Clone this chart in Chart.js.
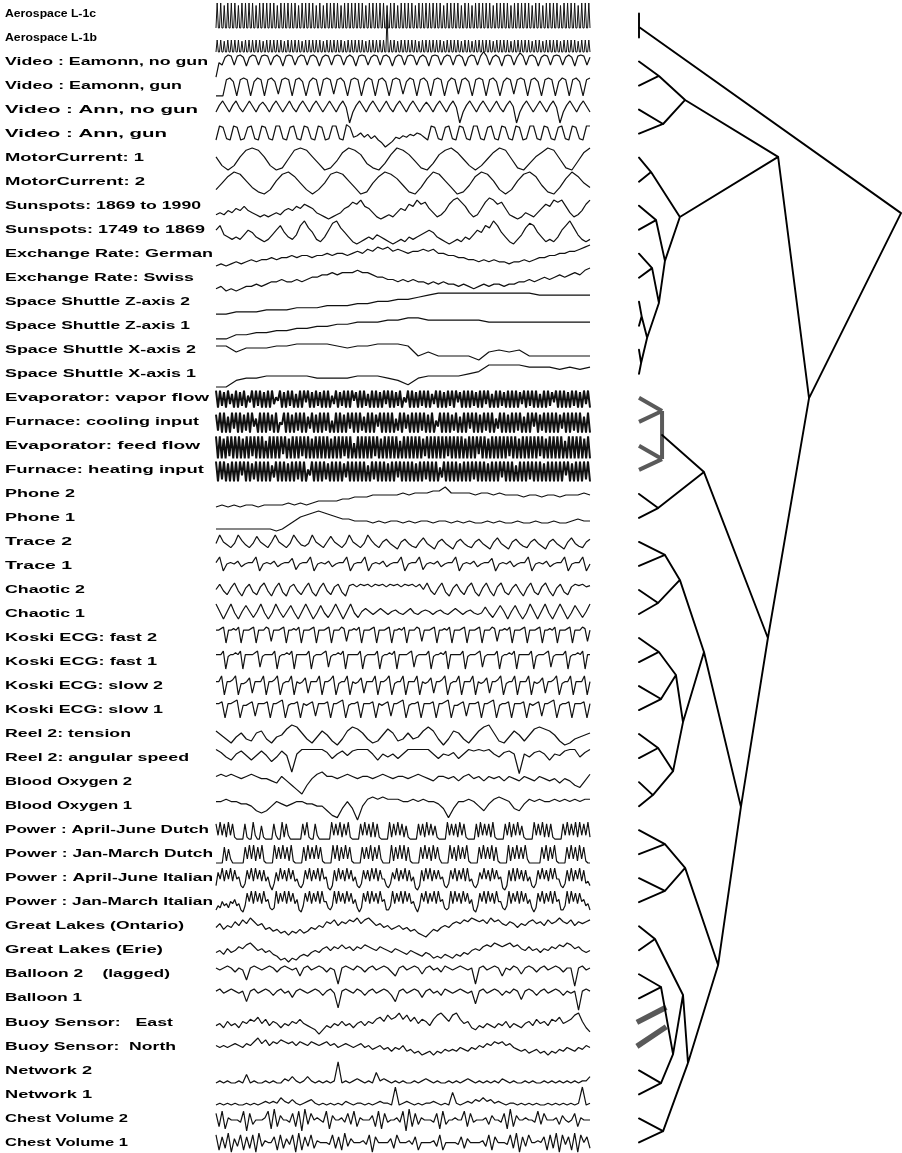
<!DOCTYPE html>
<html><head><meta charset="utf-8">
<script src="https://cdn.jsdelivr.net/npm/chart.js@4.4.1/dist/chart.umd.min.js"></script>
<style>html,body{margin:0;padding:0;background:#fff;}#wrap{position:relative;width:902px;height:1153px;}canvas{display:block;}</style>
</head><body><div id="wrap"><canvas id="c" width="902" height="1153" style="width:902px;height:1153px"></canvas></div>
<script>
// ---------- DATA ----------
const seriesNames = ["Aerospace L-1c","Aerospace L-1b","Video : Eamonn, no gun","Video : Eamonn, gun","Video : Ann, no gun","Video : Ann, gun","MotorCurrent: 1","MotorCurrent: 2","Sunspots: 1869 to 1990","Sunspots: 1749 to 1869","Exchange Rate: German","Exchange Rate: Swiss","Space Shuttle Z-axis 2","Space Shuttle Z-axis 1","Space Shuttle X-axis 2","Space Shuttle X-axis 1","Evaporator: vapor flow","Furnace: cooling input","Evaporator: feed flow","Furnace: heating input","Phone 2","Phone 1","Trace 2","Trace 1","Chaotic 2","Chaotic 1","Koski ECG: fast 2","Koski ECG: fast 1","Koski ECG: slow 2","Koski ECG: slow 1","Reel 2: tension","Reel 2: angular speed","Blood Oxygen 2","Blood Oxygen 1","Power : April-June Dutch","Power : Jan-March Dutch","Power : April-June Italian","Power : Jan-March Italian","Great Lakes (Ontario)","Great Lakes (Erie)","Balloon 2    (lagged)","Balloon 1","Buoy Sensor:   East","Buoy Sensor:  North","Network 2","Network 1","Chest Volume 2","Chest Volume 1"];

const aerospaceL1c = [0,10,0,0,10,0,0,9,0,0,10,0,0,10,0,0,10,0,0,9,0,0,10,0,0,10,0,0,10,0, 0,10,0,0,9,0,0,10,0,0,10,0,0,10,0,0,10,0,0,10,0,0,9,0,0,10,0,0,10,0, 0,10,0,0,10,0,0,10,0,0,9,0,0,10,0,0,10,0,0,10,0,0,10,0,0,9,0,0,10,0, 0,9,0,0,10,0,0,10,0,0,10,0,0,10,0,0,9,0,0,10,0,0,10,0,0,10,0,0,10,0, 0,10,0,0,10,0,0,9,0,0,10,0,0,10,0,0,10,0,0,10,0,0,10,0,0,9,0,0,10,0, 0,10,0,0,9,0,0,10,0,0,10,0,0,10,0,0,10,0,0,9,0,0,10,0,0,10,0,0,10,0, 0,10,0,0,10,0,0,10,0,0,10,0,0,9,0,0,10,0,0,10,0,0,10,0,0,10,0,0,9,0, 0,10,0,0,10,0,0,9,0,0,10,0,0,10,0,0,10,0,0,10,0,0,10,0,0,9,0,0,10,0, 0,10,0,0,10,0,0,10,0,0,9,0,0,10,0,0,10,0,0,10,0,0,10,0,0,10,0,0,9,0, 0,10,0,0,10,0,0,9,0,0,10,0,0,10,0,0,10,0,0,10,0,0,9,0,0,10,0,0,10,0, 0,10,0,0,10,0,0,9,0,0,10,0,0,10,0,0,10,0];
const aerospaceL1b = [0,10,0,0,10,0,0,9,0,0,10,0,0,10,0,0,10,0,0,10,0,0,9,0,0,10,0,0,10,0, 0,10,0,0,10,0,0,10,0,0,9,0,0,10,0,0,10,0,0,10,0,0,10,0,0,10,0,0,9,0, 0,10,0,0,10,0,0,10,0,0,10,0,0,9,0,0,10,0,0,10,0,0,10,0,0,10,0,0,10,0, 0,9,0,0,10,0,0,10,0,0,10,0,0,10,0,0,10,0,0,9,0,0,10,0,0,10,0,0,10,0, 0,10,0,0,10,0,0,9,0,0,10,0,0,10,0,0,10,0,0,10,0,0,10,0,0,31,0,0,10,0, 0,10,0,0,9,0,0,10,0,0,10,0,0,10,0,0,10,0,0,10,0,0,9,0,0,10,0,0,10,0, 0,10,0,0,10,0,0,10,0,0,10,0,0,9,0,0,10,0,0,10,0,0,10,0,0,10,0,0,9,0, 0,10,0,0,10,0,0,9,0,0,10,0,0,10,0,0,10,0,0,10,0,0,10,0,0,9,0,0,10,0, 0,10,0,0,10,0,0,10,0,0,9,0,0,10,0,0,10,0,0,10,0,0,10,0,0,10,0,0,9,0, 0,10,0,0,10,0,0,9,0,0,10,0,0,10,0,0,10,0,0,10,0,0,9,0,0,10,0,0,10,0, 0,10,0,0,10,0,0,9,0,0,10,0,0,10,0,0,10,0];
const videoEamonnNoGun = [-10,3,1,8,10,9,1,9,10,8,0,8,10,9,1,9,10,9,1,8,10,8,0,9,10,9,1,8,10,9,1,9,10,8,0,8,10,9,1,9,10,9,1,8,10,8,0,9,10,9,1,8,10,9,1,9,10,8,0,8,10,9,1,9,10,9,1,8,10,8,0,9,10,9,1,8,10,9,1,9,10,8,0,8,10,9,1,9,13,9,1,8,10,8,0,9,10,9,1,8,12,9,1,9,10,8,0,8,10,9,1,9,10,9,1,8,10,8,0,9,10,9,1,8];
const videoEamonnGun = [0,0,0,9,10,8,0,9,10,9,0,8,10,9,0,9,10,8,1,9,10,9,0,9,10,8,0,8,10,9,0,9,10,9,1,9,10,8,0,9,10,9,0,8,10,9,0,9,10,8,0,9,10,9,1,8,10,9,0,9,10,8,0,9,10,9,0,8,10,9,1,9,10,8,0,9,10,9,0,9,10,8,0,8,10,9,1,9,10,9,0,9,10,8,0,9,10,9,0,8,10,9,0,9,10,8,0,9,10];
const videoAnnNoGun = [0,6,10,5,0,6,10,4,0,5,10,5,0,6,9,5,0,6,10,5,0,5,10,4,0,6,10,5,0,6,10,5,0,5,10,5,0,6,10,4,-10,0,6,10,5,0,6,10,5,0,5,10,4,0,6,10,5,0,6,10,5,0,5,9,5,0,6,10,5,0,6,10,4,-10,0,6,10,5,0,6,10,5,0,5,10,4,0,6,10,5,-10,0,6,10,5,0,5,10,5,0,6,10,4,-10,0,6,10,5,0,6,10,5,0];
const videoAnnGun = [0,10,9,1,0,10,9,0,1,9,10,1,0,10,9,1,0,10,10,1,0,9,10,1,0,10,9,1,0,10,9,0,1,10,10,1,0,11,9,2,3,5,2,4,1,3,0,-2,-5,-3,-1,2,1,3,2,4,3,5,4,2,0,10,9,1,0,9,10,1,0,10,9,1,0,10,10,1,0,9,10,1,0,10,9,1,0,10,9,0,1,10,10,1,0,10,9,1,0,9,10,1,0,10,9,1,0,10,10];
const motorCurrent1 = [6,2,0,2,6,9,10,9,6,2,0,1,5,9,10,9,6,3,0,1,4,8,10,9,7,3,1,0,3,7,10,9,7,4,1,0,3,7,9,10,8,5,2,0,2,5,8,10,9,5,1,0,3,6,8,10,9,5,1,0,4,8,10];
const motorCurrent2 = [2,5,8,10,9,6,3,1,0,2,6,9,10,8,5,2,0,2,5,9,10,9,6,3,0,1,5,8,10,9,7,4,1,0,3,7,10,9,6,3,0,1,4,8,10,9,6,2,0,2,6,9,10,8,4,1,0,3,7,10,8,5,3];
const sunspots1869 = [2,3,2,4,3,5,4,6,4,3,2,1,2,1,2,3,2,4,5,4,6,5,7,6,5,3,2,1,0,1,2,3,5,6,8,7,9,6,5,3,1,0,1,2,1,3,5,4,7,6,9,7,8,5,3,1,2,4,7,9,10,8,6,3,1,2,5,8,10,9,7,8,5,2,1,0,1,3,2,1,3,5,7,6,9,8,9,6,3,1,2,4,7,9];
const sunspots1749 = [6,8,4,3,2,3,2,4,6,5,3,2,1,2,4,6,8,5,3,2,4,8,10,7,5,2,1,3,6,9,10,7,5,3,1,0,1,2,3,2,4,3,2,1,0,1,2,1,3,2,3,4,5,6,5,3,2,1,0,1,2,1,3,2,4,6,5,8,7,10,8,5,3,1,0,2,4,7,9,8,5,3,1,2,1,3,6,8,10,7,4,2,1,2];
const exchangeGerman = [0,1,0,1,2,1,2,3,2,3,3,4,3,4,4,5,4,5,5,4,5,5,6,5,6,6,5,6,7,6,8,7,9,8,9,7,8,7,6,7,7,8,7,8,6,6,5,5,4,4,3,3,2,3,2,3,2,2,1,2,2,3,2,3,4,4,5,5,6,6,7,7,8,9,10];
const exchangeSwiss = [1,2,0,1,0,1,2,2,3,2,3,4,4,5,4,4,5,4,5,6,6,7,7,8,7,8,8,8,9,8,8,7,6,6,5,5,4,5,4,5,4,4,3,4,3,4,3,3,2,3,2,1,2,3,2,3,3,2,3,3,4,4,5,4,5,6,5,6,7,6,7,8,7,9,10];
const shuttleZ2 = [0,0,1,1,1,2,2,2,3,3,3,4,4,4,5,5,6,6,7,7,8,9,10,10,10,10,10,10,10,10,10,10,9,9,9,9,9,9];
const shuttleZ1 = [0,0,2,2,3,3,4,4,5,5,6,6,7,7,8,8,8,9,9,10,10,9,9,9,9,9,9,8,8,8,8,8,8,8,8,8,8,8];
const shuttleX2 = [8,8,5,7,7,7,8,8,9,9,9,9,8,7,8,8,9,9,9,8,3,5,3,3,3,3,1,5,6,5,6,3,3,3,3,3,3,3];
const shuttleX1 = [0,0,3,4,4,5,5,5,5,5,4,4,4,4,5,5,5,4,3,1,4,5,5,5,5,6,7,10,10,10,10,9,9,9,8,9,8,9];
const evaporatorVapor = [10,0,10,1,9,0,10,2,8,0,10,0,9,1,10,0,7,3,10,0,10,1,10,0,9,0,10,0,10,2,6,4,10,0,9,0,10,1,10,0,8,0,10,0,10,3,10,0,9,0,10,1,9,0,10,0,10,0,7,2,10,0,9,1,10,0,10,0,10,4,9,0,10,0,10,1,8,0,10,0,10,0,9,0,10,2,10,0,10,0,9,1,10,0,6,3,10,0,10,0,9,0,10,1,10,0,10,0,8,2,10,0,10,0,9,0,10,1,10,0,10,3,9,0,10,0,10,0,10,1,9,0,10,0,10,2,10,0,8,0,10,0,10,1,9,0,10,0,10,0,10,0,9,2,10,0,10,1,10,0,10,0,8,0,10,0,10,1,9,3,10,0,10,0,10,0,9,0,10,1,10,0,9,0,10,2,10,0];
const furnaceCooling = [9,1,10,0,10,0,8,0,10,2,10,0,10,0,9,1,10,0,10,3,7,0,10,0,10,0,10,1,9,0,10,0,5,4,10,0,10,0,9,0,10,1,10,0,10,0,8,2,10,0,9,0,10,0,10,1,10,0,6,0,10,0,10,0,9,0,10,2,10,0,10,0,10,1,8,0,10,0,10,0,9,3,10,0,10,0,10,0,10,0,7,1,10,0,10,2,9,0,10,0,10,0,10,1,10,0,9,0,10,0,6,3,10,0,10,0,10,0,9,1,10,0,8,0,10,0,10,2,10,0,10,0,9,0,10,1,10,0,10,0,7,2,10,0,10,0,9,0,10,0,10,1,10,0,8,0,10,0,10,3,10,0,9,1,10,0,10,0,10,0,10,0,9,2,10,0,10,0,10,1,10,0,10,0,8,0,10,0];
const evaporatorFeed = [10,0,10,0,9,0,10,1,10,0,10,0,10,0,9,0,10,0,10,1,10,0,10,0,10,0,8,0,10,0,10,0,10,0,10,2,10,0,9,0,10,0,10,0,10,1,10,0,10,0,9,0,10,0,10,0,10,0,10,0,9,0,10,0,10,0,10,1,10,0,10,0,7,0,10,0,10,0,10,0,10,0,10,1,10,0,9,0,10,0,10,0,10,0,10,0,8,0,10,0,10,0,10,0,10,0,10,0,9,1,10,0,10,0,10,0,10,0,10,0,10,1,10,0,10,0,10,0,10,0,9,0,10,0,10,0,10,2,10,0,10,0,9,0,10,0,10,0,10,0,10,0,10,1,10,0,10,0,9,0,10,0,10,0,10,0,10,0,10,1,10,0,9,0,10,0,10,0,10,0,10,0,8,0,10,0,10,0,10,0,10,0,9,0,10,0];
const furnaceHeating = [10,0,10,1,10,0,9,0,10,0,10,0,10,3,10,0,10,0,9,1,10,0,10,0,10,0,10,0,8,2,10,0,10,0,10,0,9,0,10,0,10,1,10,0,10,0,6,3,10,0,10,0,10,0,10,1,9,0,10,0,10,0,10,0,9,2,10,0,10,0,10,0,10,0,10,0,8,0,10,1,10,0,10,0,10,0,9,0,10,0,10,2,10,0,10,0,10,0,10,0,9,0,10,0,10,1,10,0,10,0,10,0,7,2,10,0,10,0,10,0,10,0,9,0,10,0,10,0,10,1,10,0,10,0,10,0,9,0,10,0,10,0,10,2,10,0,10,0,10,0,8,0,10,0,10,0,10,1,10,0,10,0,10,0,9,0,10,0,10,0,10,0,10,0,10,3,10,0,9,0,10,0,10,0,10,1,10,0];
const phone2 = [0,1,0,1,0,1,1,0,1,1,1,1,2,1,2,1,2,3,3,3,3,4,4,5,5,5,6,6,6,6,6,7,6,7,7,7,8,8,10,7,7,7,7,6,7,7,6,7,6,6,6,5,6,6,5,6,6,5,6,6,6,7,6];
const phone1 = [0,0,0,0,0,0,0,0,0,0,-1,0,2,4,6,7,8,9,8,7,6,5,5,4,4,4,3,4,3,4,4,3,4,3,4,4,3,4,4,3,4,3,4,3,3,4,3,4,3,3,4,3,3,4,3,3,4,3,3,4,5,4,4];
const trace2 = [4,10,5,3,1,4,10,6,3,1,4,9,5,3,1,5,10,5,3,1,4,10,6,3,2,4,10,5,3,1,5,9,5,3,1,4,10,5,3,1,4,10,6,3,1,5,7,4,2,0,5,7,4,2,1,5,8,4,2,0,5,7,4,2,0,5,7,4,2,1,5,7,4,2,0,5,8,4,2,0,5,7,4,2,1,5,7,4,2,0,5,7,4,2,0,5,8,4,2,1,5,7];
const trace1 = [6,10,0,5,6,5,7,3,5,6,6,10,0,5,6,5,7,3,5,6,6,9,1,5,6,6,10,0,5,6,5,7,3,5,6,6,10,0,5,6,6,10,0,5,6,5,7,3,5,6,6,10,0,5,6,6,10,1,5,6,5,7,3,5,6,6,10,0,5,6,5,7,3,5,6,6,9,0,5,6,5,7,3,5,6,6,10,0,5,6,5,7,3,5,6,6,10,0,5,6,6,10,0,5];
const chaotic2 = [5,9,4,1,6,10,4,0,6,9,3,1,7,10,4,0,6,10,3,0,7,9,4,1,6,10,3,0,6,10,4,1,7,9,3,0,8,9,7,9,8,9,7,9,8,9,7,9,8,9,7,9,8,9,7,9,5,10,4,1,6,10,3,0,6,9,4,1,7,10,3,0,6,10,4,0,7,10,3,1,6,9,4,0,6,10,3,1,7,10,4,0,6,9,3,1,7,9,8,9,7,8];
const chaotic1 = [10,5,0,5,10,4,0,5,9,5,1,5,10,4,0,4,10,5,1,5,9,4,0,5,10,5,0,4,9,4,1,5,10,5,0,5,10,4,1,5,7,5,3,5,7,5,3,5,6,4,3,5,7,4,3,5,6,5,3,5,6,4,3,5,7,5,3,5,6,4,3,4,8,4,1,5,9,5,0,5,9,4,0,4,10,5,0,5,10,4,0,5,10,5,0,4,9,5,1,5,10];
const koskiFast2 = [8,8,9,10,0,8,8,9,8,10,0,8,8,8,9,10,0,8,8,8,10,9,1,8,8,8,9,10,0,8,8,9,8,10,0,8,8,8,9,10,0,8,8,8,9,10,0,8,8,8,10,9,1,8,8,9,8,10,0,8,8,8,9,10,0,8,8,8,9,10,0,8,8,9,8,10,0,8,8,8,10,9,1,8,8,8,9,10,0,8,8,9,8,10,0,8,8,8,9,10,0,8,8,8,9,10,0,8,8,8,10,9,1,8,8,9,8,10,0,8,8,8,9,10,0,8,8,8,9,10,0,8,8,9,8,10,0,8,8,8,9,10,0,8,8,8,10,9,1,8];
const koskiFast1 = [8,8,8,10,0,7,8,8,9,8,10,0,8,8,8,8,9,10,1,7,8,8,8,8,10,0,7,8,8,9,8,10,0,8,8,8,8,8,10,0,7,8,8,8,9,10,1,7,8,8,9,8,10,0,8,8,8,8,8,10,0,7,8,8,8,8,10,0,7,8,8,9,8,10,0,8,8,8,8,9,10,1,7,8,8,8,8,10,0,7,8,8,9,8,10,0,8,8,8,8,8,10,0,7,8,8,8,9,10,1,7,8,8,8,8,10,0,7,8,8,9,8,10,0,8,8,8,8,8,10,0,7,8,8,8,9,10,1,7,8,8,8,8,10,0,7,8,8,9,8,10,0,8,8];
const koskiSlow2 = [7,7,10,0,7,7,8,10,0,6,6,7,9,1,7,7,7,10,0,7,7,8,10,0,6,7,7,10,0,7,6,7,9,1,7,7,7,10,0,7,7,8,10,0,6,7,7,10,0,7,6,7,9,1,7,7,7,10,0,7,7,8,10,0,6,7,7,10,0,7,7,7,10,0,7,6,7,9,1,7,7,8,10,0,6,7,7,10,0,7,7,7,10,0,7,6,7,9,1,7,7,8,10,0,6,7,7,10,0,7,7,7,10,0,7,6,7,9,1,7,7,8,10,0,6,7,7,10,0,7,7,7,10,0,7];
const koskiSlow1 = [8,8,9,0,8,8,9,10,0,7,7,8,9,1,8,8,8,9,0,8,8,9,10,0,7,8,8,9,0,8,7,8,9,1,8,8,8,9,0,8,8,9,10,0,7,8,8,9,0,8,8,8,9,0,8,7,8,9,1,8,8,9,10,0,7,8,8,9,0,8,8,8,9,0,8,8,9,10,0,7,7,8,9,1,8,8,8,9,0,8,8,9,10,0,7,8,8,9,0,8,8,8,9,0,8,7,8,9,1,8,8,9,10,0,7,8,8,9,0,8,8,8,9,0,8];
const reelTension = [7,5,3,1,4,6,3,2,6,7,3,1,4,5,8,10,9,6,3,1,4,7,5,2,0,3,7,9,8,6,3,1,2,5,8,6,2,3,6,3,4,7,9,7,3,0,3,7,6,3,1,4,7,9,10,6,2,1,4,7,5,2,5,8,9,8,7,5,2,0,1,3,4,5,6];
const reelSpeed = [9,7,4,2,6,8,5,2,5,8,5,1,4,8,5,-6,6,9,9,9,9,9,7,3,6,8,5,8,9,9,9,6,2,6,4,6,3,6,9,9,9,9,9,6,3,6,5,7,3,6,9,8,9,8,9,6,4,7,8,6,-7,6,4,7,8,6,2,6,5,8,9,9,4,7,9];
const bloodOxygen2 = [8,9,8,9,8,7,8,9,8,7,7,6,5,8,6,4,2,0,4,7,9,10,8,8,7,8,9,8,7,8,8,7,8,9,8,7,8,8,7,8,9,8,7,6,8,8,7,8,6,8,9,7,8,6,8,7,8,6,8,7,6,8,7,6,8,7,6,7,5,7,6,4,3,6,9];
const bloodOxygen1 = [8,8,9,8,8,7,7,6,4,3,4,6,8,7,6,7,8,8,7,7,6,6,4,2,1,5,8,5,0,6,9,10,9,10,9,9,9,8,8,9,8,9,8,8,7,5,1,5,8,8,9,8,6,4,7,9,10,9,8,5,4,7,9,8,9,8,8,9,8,9,8,9,8,9,9];
const powerAprJunDutch = [9,3,10,3,9,2,10,3,9,2,1,1,1,1, 9,2,1,1,10,3,1,1,8,2,1,1,1,1, 9,3,1,1,10,2,9,3,1,1,1,1,1,1, 9,3,10,2,1,1,9,3,1,1,1,1,1,1, 10,3,9,3,10,2,9,3,10,2,1,1,1,1, 9,3,10,3,9,2,10,2,9,2,1,1,1,1, 10,2,9,3,10,3,9,2,8,2,1,1,1,1, 9,3,9,2,10,3,9,3,8,2,1,1,1,1, 10,3,9,3,9,2,10,3,9,2,1,1,1,1, 9,2,10,3,9,3,9,2,10,2,1,1,1,1, 9,3,10,2,9,3,10,3,8,2,1,1,1,1, 10,3,9,3,10,2,9,2,9,2,1,1,1,1, 9,3,10,3,9,3,10,2,10,3,9,3,10,2];
const powerJanMarDutch = [1,1,1,1,9,2,8,3,1,1,1,1,1,1, 9,3,10,3,10,2,9,3,10,2,1,1,1,1, 10,3,9,3,10,3,9,2,10,2,1,1,1,1, 9,2,10,3,9,3,10,3,9,2,1,1,1,1, 10,3,10,2,9,3,10,3,9,2,1,1,1,1, 9,3,9,3,10,2,9,3,10,3,1,1,1,1, 10,2,9,3,10,3,10,2,9,2,1,1,1,1, 9,3,10,3,9,2,10,3,9,3,1,1,1,1, 10,3,9,2,10,3,9,3,10,2,1,1,1,1, 9,3,10,3,9,3,10,2,9,2,1,1,1,1, 10,2,9,3,10,3,9,3,10,3,1,1,1,1, 1,1,9,3,10,2,9,3,10,2,1,1,1,1, 9,3,10,3,9,2,10,3,9,2,1,1];
const powerAprJunItalian = [2,8,5,10,4,9,5,10,4,9,5,6,2,1, 3,9,5,10,4,10,5,9,4,9,4,6,2,0, 3,8,4,10,5,9,4,10,5,9,4,5,2,1, 3,9,5,10,4,9,5,10,4,10,5,6,1,0, 2,9,4,10,5,9,4,10,5,9,4,6,2,1, 3,9,5,9,4,10,5,10,4,9,5,5,2,1, 3,8,5,10,4,9,5,10,4,9,4,6,1,0, 2,9,4,10,5,10,4,9,5,9,5,6,2,1, 3,9,5,10,4,9,5,10,4,10,4,5,2,1, 3,8,5,10,5,9,4,10,5,9,5,6,1,0, 2,9,4,10,4,10,5,9,4,9,4,6,2,1, 3,9,5,10,5,9,4,10,5,10,5,5,2,1, 3,9,4,10,4,9,5,10,4,9,3,4,2];
const powerJanMarItalian = [1,3,2,5,3,4,2,5,4,6,3,4,1,0, 3,9,5,10,4,10,5,9,4,10,5,6,2,1, 2,10,4,9,5,10,4,10,5,9,4,6,1,0, 3,9,5,10,4,9,5,10,4,10,5,5,2,1, 3,10,4,10,5,9,4,10,5,9,4,6,2,0, 2,9,5,10,4,10,5,9,4,10,5,6,1,1, 3,10,4,9,5,10,4,10,5,9,4,5,2,0, 3,9,5,10,4,9,5,10,4,10,5,6,2,1, 2,10,4,10,5,9,4,10,5,9,4,6,1,0, 3,9,5,10,4,10,5,9,4,10,5,5,2,1, 3,10,4,9,5,10,4,10,5,9,4,6,2,0, 2,9,5,10,4,9,5,10,4,10,5,6,1,1, 3,10,4,10,5,9,4,9,5,6,3,4,1];
const greatLakesOntario = [5,7,4,6,5,8,6,9,7,10,8,6,7,4,5,3,4,2,3,1,3,2,4,2,3,5,4,6,5,8,7,9,6,8,7,9,8,10,7,9,10,8,6,7,5,6,4,5,6,4,5,3,4,2,1,0,2,4,3,5,6,5,7,8,7,9,8,10,9,8,9,7,10,8,9,7,6,8,7,5,7,6,8,9,7,8,6,9,7,8,10,8,7,9,6,8,7,8,9];
const greatLakesErie = [5,6,4,7,5,6,8,7,9,10,8,6,7,5,6,4,3,1,2,0,2,1,3,4,3,5,6,5,7,8,6,8,7,9,7,8,6,8,7,9,8,7,6,8,7,6,5,7,6,5,4,6,5,4,3,5,4,2,3,2,4,3,2,4,3,5,4,6,7,6,8,9,8,10,9,8,9,10,8,9,7,6,8,6,7,5,7,6,8,7,9,8,10,9,7,8,6,5,6];
const balloon2 = [9,8,9,10,9,7,9,8,3,9,10,9,8,9,10,9,7,9,10,9,8,9,5,9,10,8,9,10,9,7,9,8,1,9,10,9,8,10,9,7,9,10,8,9,10,9,7,5,9,10,8,9,10,9,6,9,10,8,9,7,10,9,8,9,10,9,8,9,1,9,10,8,9,10,9,5,9,8,10,9,6,9,10,9,7,9,10,8,9,10,9,7,9,9,0,9,10,8,9];
const balloon1 = [9,10,8,9,10,9,8,9,4,9,10,8,9,10,9,7,9,10,8,9,6,9,10,9,8,9,10,9,7,9,10,8,1,9,10,9,8,10,9,7,9,10,8,9,10,9,7,4,9,10,8,9,10,9,6,9,10,8,9,7,10,9,8,9,10,9,8,9,3,9,10,8,9,10,9,7,9,8,10,9,5,9,10,9,7,9,10,8,9,10,9,7,9,8,9,0,9,10,9];
const buoyEast = [4,5,3,6,4,5,3,6,5,7,6,8,5,7,4,6,5,3,5,4,6,5,7,5,4,3,2,0,2,4,3,5,4,6,4,5,3,5,6,4,6,5,7,8,6,9,7,8,10,7,9,6,8,5,7,6,4,7,9,10,8,6,9,10,7,5,6,3,2,4,3,5,4,3,5,4,6,3,5,4,3,5,6,4,7,5,6,4,7,6,8,5,6,7,9,10,6,3,1];
const buoyNorth = [6,5,6,5,6,7,6,5,7,6,8,10,7,9,6,8,7,9,8,7,8,6,8,7,6,8,7,6,7,8,6,7,5,6,7,6,5,6,7,5,6,4,5,6,4,5,3,5,4,6,3,4,2,3,1,2,3,1,3,2,4,3,4,3,5,4,3,5,4,6,5,7,6,8,7,8,6,7,5,4,3,4,2,3,4,2,3,1,3,2,4,3,5,4,3,5,4,6,5];
const network2 = [0,1,0,1,0,0,1,0,4,0,1,0,0,1,0,1,0,0,2,1,3,1,0,1,3,1,0,1,0,1,0,1,10,0,1,0,1,2,1,0,1,0,5,1,2,1,0,1,0,1,0,0,1,0,1,2,1,0,1,0,0,1,0,1,0,1,2,1,0,1,0,1,0,1,0,2,1,0,1,0,0,1,0,1,0,0,1,0,1,0,1,0,1,0,1,0,1,1,3];
const network1 = [0,1,0,1,0,1,0,0,1,0,1,0,1,2,1,2,1,4,2,1,3,1,0,1,2,3,1,0,1,0,1,0,1,0,2,1,0,1,1,0,1,0,1,2,1,1,0,10,0,1,2,1,0,1,0,1,1,2,1,0,1,0,7,1,0,1,2,1,3,2,4,2,3,1,2,1,0,1,1,0,1,0,1,0,1,0,0,1,0,1,0,1,0,1,0,1,10,0,1];
const chestVolume2 = [8,2,9,1,6,5,5,5,4,9,0,8,3,5,5,5,6,9,1,10,2,7,5,5,4,8,2,9,0,10,3,8,5,6,5,4,9,1,7,5,5,6,4,8,3,9,2,6,5,5,5,7,2,9,1,8,4,5,5,6,4,9,0,10,2,8,3,6,5,5,5,4,8,1,9,3,5,5,6,5,5,9,2,8,4,5,5,5,6,3,7,5,5,4,8,1,10,2,7,5,5,6,5,5,4,9,3,8,5,5,5,6,3,7,5,4,5,8,2,6,5,5,5];
const chestVolume1 = [9,1,8,2,10,0,7,3,9,1,8,2,9,0,10,3,6,5,5,8,1,9,2,7,4,9,0,10,1,8,3,9,2,6,5,5,5,4,9,2,8,1,10,3,7,5,5,5,6,4,9,0,8,5,5,5,5,7,2,9,5,5,5,6,4,8,1,5,5,5,5,6,3,9,1,5,5,5,5,4,8,2,7,5,5,5,5,6,3,9,1,8,5,5,5,4,9,2,10,0,8,3,9,5,5,6,5,8,1,9,2,10,0,9,4,8,1,10,0,9,5,8,2];

const seriesValues = [aerospaceL1c, aerospaceL1b, videoEamonnNoGun, videoEamonnGun, videoAnnNoGun, videoAnnGun, motorCurrent1, motorCurrent2, sunspots1869, sunspots1749, exchangeGerman, exchangeSwiss, shuttleZ2, shuttleZ1, shuttleX2, shuttleX1, evaporatorVapor, furnaceCooling, evaporatorFeed, furnaceHeating, phone2, phone1, trace2, trace1, chaotic2, chaotic1, koskiFast2, koskiFast1, koskiSlow2, koskiSlow1, reelTension, reelSpeed, bloodOxygen2, bloodOxygen1, powerAprJunDutch, powerJanMarDutch, powerAprJunItalian, powerJanMarItalian, greatLakesOntario, greatLakesErie, balloon2, balloon1, buoyEast, buoyNorth, network2, network1, chestVolume2, chestVolume1];

// dendrogram merges: [childA, childB, merge height (0..1), row position]; leaves are 0..47, merge k is node 48+k
const dendroMerges = [
 [0,1,0.000,0.56],[2,3,0.076,2.60],[4,5,0.092,4.60],[49,50,0.176,3.60],
 [6,7,0.046,6.60],[8,9,0.065,8.60],[10,11,0.050,10.60],[12,13,0.010,12.60],
 [14,15,0.008,14.55],[55,56,0.031,13.50],[54,57,0.076,12.05],[53,58,0.099,10.30],
 [52,59,0.156,8.47],[51,60,0.531,5.97],[16,17,0.088,16.55],[18,19,0.088,18.55],
 [62,63,0.088,17.55],[20,21,0.073,20.59],[64,65,0.248,19.09],[22,23,0.099,22.54],
 [24,25,0.073,24.54],[67,68,0.156,23.58],[26,27,0.076,26.58],[28,29,0.084,28.54],
 [70,71,0.141,27.54],[30,31,0.073,30.58],[32,33,0.053,32.54],[73,74,0.130,31.54],
 [72,75,0.168,29.50],[69,76,0.248,26.58],[34,35,0.099,34.58],[36,37,0.099,36.53],
 [78,79,0.176,35.57],[38,39,0.061,38.53],[40,41,0.084,40.53],[44,45,0.084,44.53],
 [82,83,0.130,43.32],[81,84,0.168,40.86],[46,47,0.092,46.53],[85,86,0.187,43.69],
 [80,87,0.302,39.61],[77,88,0.389,33.03],[66,89,0.492,26.00],[61,90,0.649,16.01],
 [48,91,1.000,8.31]
];
const highlightedNodes = [62,63,64];
// grey marks on the Buoy leaves: [leaf, end height, end row]
const buoyMarks = [[42,0.104,41.37],[43,0.104,42.18]];

// ---------- LAYOUT / STYLE ----------
const ROW_PX = 24.02;
const LABEL_LEFT = 5;
const labelRight = [96,97,208,182,198,167,144,145,201,205,213,194,190,190,196,196,209,199,200,204,75,75,72,72,85,85,157,157,163,163,131,189,132,132,209,213,213,213,184,163,170,82,173,176,92,92,128,128];
const bandOff = [[-10.5,14.5],[2.5,14.5],[-6.5,4.5],[-7.6,10.4],[-8.6,2.4],[-7.6,6.4],[-9.6,12.4],[-9.6,12.4],[-7.7,13.3],[-8.7,14.3],[-8.7,12.3],[-9.7,13.3],[-8.7,12.3],[-7.8,13.2],[-7.8,12.2],[-8.8,13.2],[-7.3,9.7],[-9.3,10.7],[-9.4,12.6],[-8.4,11.6],[-6.9,13.1],[-8.9,11.1],[-6.9,7.1],[-9,5],[-7,6],[-10,5],[-11,5],[-11,7],[-10.1,8.9],[-10.1,7.9],[-9.1,10.9],[-10.1,4.9],[-10.1,11.9],[-9.2,13.8],[-8.2,10.8],[-9.2,10.8],[-10.2,11.8],[-11.2,9.8],[-8.3,10.7],[-7.3,11.7],[-8.3,11.7],[-9.3,11.7],[-9.3,11.7],[-8.4,10.6],[-8.4,12.6],[-7.4,10.6],[-9.4,12.6],[-9.4,9.6]];
const denseRows = [16,17,18,19];

// ---------- BUILD ----------
const datasets = [];
seriesValues.forEach((vals, s) => {
  const top = bandOff[s][0], bot = bandOff[s][1], n = vals.length;
  datasets.push({
    xAxisID: 'xs', yAxisID: 'y',
    data: vals.map((v, j) => ({x: j / (n - 1), y: s + (bot - v / 10 * (bot - top)) / ROW_PX})),
    showLine: true, borderColor: '#111', borderWidth: denseRows.includes(s) ? 2.0 : (s < 2 ? 1.0 : 1.2),
    borderJoinStyle: 'bevel', borderCapStyle: 'butt',
    pointRadius: 0, tension: 0
  });
});

const nodeH = [], nodeR = [];
for (let i = 0; i < seriesNames.length; i++) { nodeH.push(0); nodeR.push(i); }
dendroMerges.forEach(m => { nodeH.push(m[2]); nodeR.push(m[3]); });
const blackSeg = [], greySeg = [], markSeg = [];
dendroMerges.forEach((m, k) => {
  const id = seriesNames.length + k;
  [m[0], m[1]].forEach(c => {
    const seg = [{x: nodeH[c], y: nodeR[c]}, {x: nodeH[id], y: nodeR[id]}, {x: null, y: null}];
    (highlightedNodes.includes(id) ? greySeg : blackSeg).push(...seg);
  });
});
buoyMarks.forEach(b => { markSeg.push({x: -0.008, y: b[0]}, {x: b[1], y: b[2]}, {x: null, y: null}); });

datasets.push({xAxisID:'xd', yAxisID:'y', data: blackSeg, showLine:true, borderColor:'#000', borderWidth:1.9, pointRadius:0, spanGaps:false, borderCapStyle:'round', borderJoinStyle:'round'});
datasets.push({xAxisID:'xd', yAxisID:'y', data: greySeg, showLine:true, borderColor:'#5a5a5a', borderWidth:4, pointRadius:0, spanGaps:false, borderCapStyle:'butt', borderJoinStyle:'miter'});
datasets.push({xAxisID:'xd', yAxisID:'y', data: markSeg, showLine:true, borderColor:'#595959', borderWidth:5.5, pointRadius:0, spanGaps:false, borderCapStyle:'butt'});

const labelPlugin = {
  id: 'rowLabels',
  afterDatasetsDraw(chart) {
    const ctx = chart.ctx, ys = chart.scales.y;
    ctx.save();
    ctx.fillStyle = '#000';
    ctx.font = 'bold 11.5px "Liberation Sans", Arial, sans-serif';
    ctx.textBaseline = 'middle';
    ctx.textAlign = 'left';
    seriesNames.forEach((name, i) => {
      const w = ctx.measureText(name).width;
      const sx = (labelRight[i] - LABEL_LEFT) / w;
      const y = ys.getPixelForValue(i);
      ctx.save();
      ctx.translate(LABEL_LEFT, y);
      ctx.scale(sx, 1);
      ctx.fillText(name, 0, 0);
      ctx.restore();
    });
    ctx.restore();
  }
};

new Chart(document.getElementById('c'), {
  type: 'scatter',
  data: {datasets},
  plugins: [labelPlugin],
  options: {
    responsive: false, animation: false, devicePixelRatio: 1, events: [],
    layout: {padding: 0},
    plugins: {legend: {display: false}, tooltip: {enabled: false}, title: {display: false}},
    scales: {
      x: {display: false},
      xs: {type: 'linear', axis: 'x', display: false, min: -0.5775, max: 1.8342},
      xd: {type: 'linear', axis: 'x', display: false, min: -2.4389, max: 1.0038},
      y: {type: 'linear', display: false, reverse: true, min: -0.562, max: 47.4396}
    }
  }
});
</script></body></html>
